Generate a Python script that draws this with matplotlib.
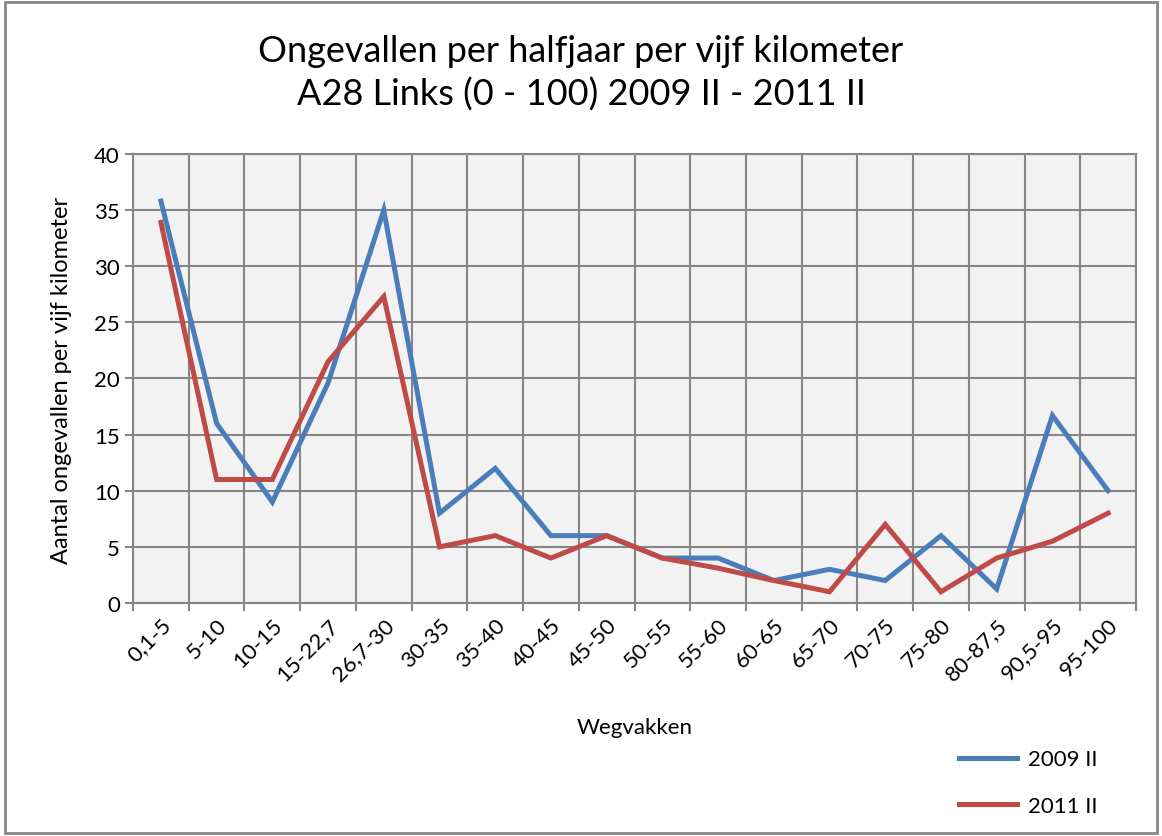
import matplotlib.pyplot as plt
from matplotlib.lines import Line2D

# Data
wegvakken = ['0,1-5', '5-10', '10-15', '15-22,7', '26,7-30', '30-35', '35-40',
             '40-45', '45-50', '50-55', '55-60', '60-65', '65-70', '70-75',
             '75-80', '80-87,5', '90,5-95', '95-100']
jaar_2009 = [35.8, 16, 9, 19.6, 35, 8, 12, 6, 6, 4, 4, 2, 3, 2, 6, 1.25, 16.7, 10]
jaar_2011 = [33.9, 11, 11, 21.5, 27.3, 5, 6, 4, 6, 4, 3.1, 2, 1, 7, 1, 4, 5.5, 8]

plt.rcParams['font.family'] = ['Lato', 'DejaVu Sans']

fig = plt.figure(figsize=(11.62, 8.37), dpi=100)
ax = fig.add_axes([0.1145, 0.2784, 0.8631, 0.5364])
ax.set_facecolor('#f2f2f2')

x = list(range(len(wegvakken)))
ax.plot(x, jaar_2009, color='#4a7ebb', lw=3.6, solid_joinstyle='miter', zorder=3)
ax.plot(x, jaar_2011, color='#be4b48', lw=3.6, solid_joinstyle='miter', zorder=3)

ax.set_xlim(-0.5, len(wegvakken) - 0.5)
ax.set_ylim(0, 40)
ax.set_yticks(range(0, 41, 5))
ax.set_xticks(x)
ax.set_xticklabels(wegvakken, rotation=45, ha='right', rotation_mode='anchor', fontsize=16)
ax.set_xticks([i - 0.5 for i in range(len(wegvakken) + 1)], minor=True)
ax.tick_params(axis='x', which='major', length=0, pad=8)
ax.tick_params(axis='x', which='minor', length=6, color='#868686', width=1.5)
ax.tick_params(axis='y', labelsize=16, length=6, color='#868686', width=1.5)
ax.grid(True, which='minor', axis='x', color='#868686', lw=1.5)
ax.grid(True, which='major', axis='y', color='#868686', lw=1.5)
ax.set_axisbelow(True)
for s in ax.spines.values():
    s.set_color('#868686')
    s.set_linewidth(1.5)

fig.suptitle('Ongevallen per halfjaar per vijf kilometer\nA28 Links (0 - 100) 2009 II - 2011 II',
             y=0.958, fontsize=26, linespacing=1.35)
fig.text(0.546, 0.13, 'Wegvakken', ha='center', va='center', fontsize=16)
fig.text(0.053, 0.545, 'Aantal ongevallen per vijf kilometer', rotation=90,
         ha='center', va='center', fontsize=17)

# legend
handles = [Line2D([], [], color='#4a7ebb', lw=3.6), Line2D([], [], color='#be4b48', lw=3.6)]
fig.legend(handles, ['2009 II', '2011 II'], loc='lower right', bbox_to_anchor=(0.962, 0.0),
           frameon=False, fontsize=16, handlelength=2.6, handletextpad=0.5,
           labelspacing=1.2)

# outer chart border
fig.patches.append(plt.Rectangle((0.004, 0.003), 0.992, 0.994, transform=fig.transFigure,
                                 fill=False, edgecolor='#868686', lw=2))

plt.savefig('out.png', dpi=100)
